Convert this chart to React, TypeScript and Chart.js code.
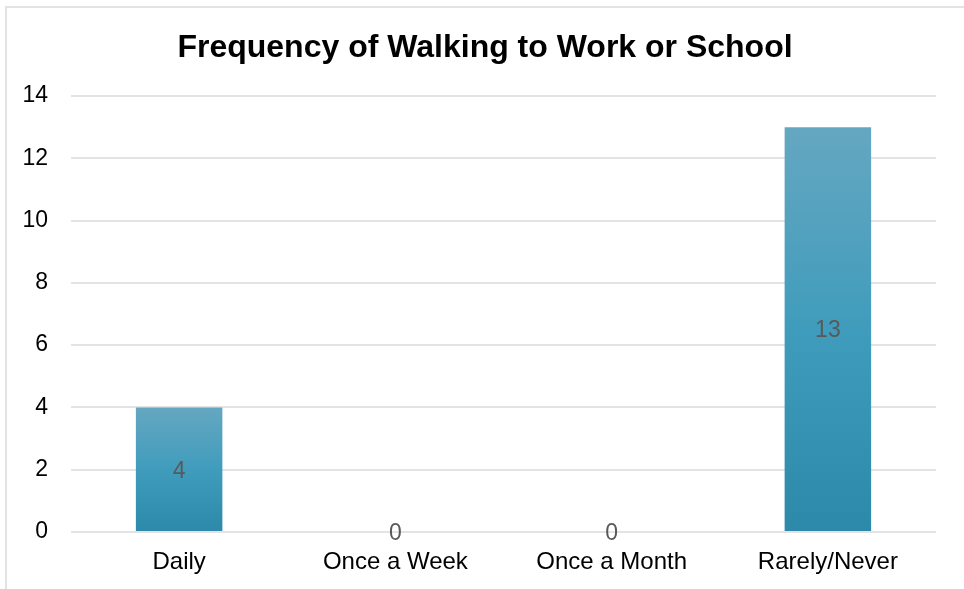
import React, { useEffect, useRef } from "react";
import { Chart, registerables } from "chart.js";

Chart.register(...registerables);

const categories = ["Daily", "Once a Week", "Once a Month", "Rarely/Never"];
const counts = [4, 0, 0, 13];
const yTicks = [0, 2, 4, 6, 8, 10, 12, 14];
const titleText = "Frequency of Walking to Work or School";

const FONT = "'Liberation Sans', Arial, sans-serif";

const valueLabels = {
  id: "valueLabels",
  afterDatasetsDraw(chart: any) {
    const { ctx } = chart;
    const meta = chart.getDatasetMeta(0);
    ctx.save();
    ctx.font = `23px ${FONT}`;
    ctx.fillStyle = "#595959";
    ctx.textAlign = "center";
    ctx.textBaseline = "middle";
    meta.data.forEach((bar: any, i: number) => {
      const { x, y, base } = bar.getProps(["x", "y", "base"], true);
      ctx.fillText(String(counts[i]), x, (y + base) / 2 + 2);
    });
    ctx.restore();
  },
};

const titleDraw = {
  id: "titleDraw",
  afterDraw(chart: any) {
    const { ctx } = chart;
    ctx.save();
    ctx.font = `bold 32px ${FONT}`;
    ctx.fillStyle = "#000000";
    ctx.textAlign = "center";
    ctx.textBaseline = "alphabetic";
    ctx.fillText(titleText, 485, 57);
    ctx.restore();
  },
};

export default function App() {
  const ref = useRef<HTMLCanvasElement>(null);
  useEffect(() => {
    if (!ref.current) return;
    const chart = new Chart(ref.current, {
      type: "bar",
      data: {
        labels: categories,
        datasets: [
          {
            data: counts,
            backgroundColor: (c: any) => {
              const ch = c.chart;
              if (!ch.chartArea || c.raw === undefined) return "#3f9bbb";
              const ys = ch.scales.y;
              const top = ys.getPixelForValue(c.raw);
              const bot = ys.getPixelForValue(0);
              if (Math.abs(bot - top) < 1) return "#3f9bbb";
              const g = ch.ctx.createLinearGradient(0, top, 0, bot);
              g.addColorStop(0, "#65a7c1");
              g.addColorStop(0.5, "#409cbc");
              g.addColorStop(1, "#2d89aa");
              return g;
            },
            borderWidth: 0,
            barPercentage: 0.4,
            categoryPercentage: 1,
          },
        ],
      },
      options: {
        animation: false,
        responsive: false,
        layout: { padding: { left: 11, right: 28, top: 96, bottom: 0 } },
        plugins: {
          legend: { display: false },
          tooltip: { enabled: false },
          title: { display: false },
        },
        scales: {
          x: {
            grid: { display: false },
            border: { display: false },
            ticks: {
              color: "#000000",
              font: { family: FONT, size: 24 },
              padding: 8,
              maxRotation: 0,
            },
            afterFit: (s: any) => {
              s.height = 57;
            },
          },
          y: {
            min: 0,
            max: 14,
            afterBuildTicks: (s: any) => {
              s.ticks = yTicks.map((v) => ({ value: v }));
            },
            grid: { color: "#e3e3e3", lineWidth: 2, drawTicks: false },
            border: { display: false },
            ticks: {
              color: "#000000",
              font: { family: FONT, size: 23 },
              padding: 23,
            },
            afterFit: (s: any) => {
              s.width = 60;
            },
          },
        },
      },
      plugins: [valueLabels, titleDraw],
    });
    return () => chart.destroy();
  }, []);
  return (
    <div style={{ position: "fixed", left: 0, top: 0, width: 964, height: 589, background: "#ffffff", overflow: "hidden" }}>
      <div
        style={{
          position: "absolute",
          left: 5,
          top: 6,
          width: 1000,
          height: 1000,
          borderLeft: "2px solid #e3e3e3",
          borderTop: "2px solid #e3e3e3",
        }}
      />
      <canvas ref={ref} width={964} height={589} style={{ position: "absolute", left: 0, top: 0 }} />
    </div>
  );
}
